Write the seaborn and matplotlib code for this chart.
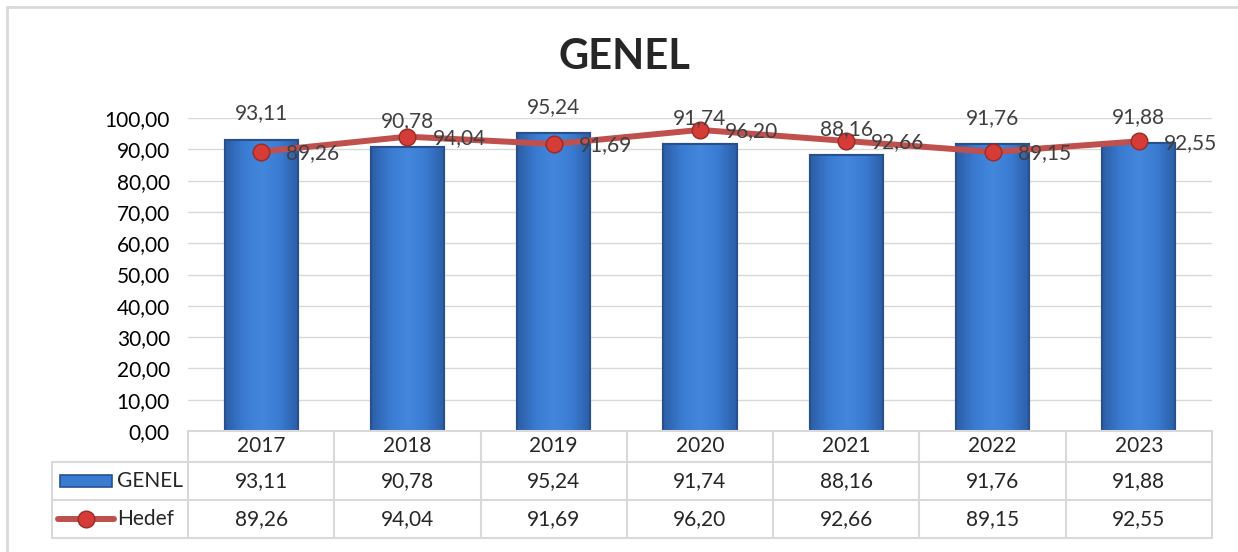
import numpy as np
import pandas as pd
import seaborn as sns
import matplotlib.pyplot as plt
from matplotlib.ticker import FuncFormatter, MultipleLocator
from matplotlib.lines import Line2D
from matplotlib.patches import Rectangle
from matplotlib.colors import LinearSegmentedColormap

# data
years = ['2017', '2018', '2019', '2020', '2021', '2022', '2023']
genel = [93.11, 90.78, 95.24, 91.74, 88.16, 91.76, 91.88]
hedef = [89.26, 94.04, 91.69, 96.20, 92.66, 89.15, 92.55]


def tr(v):
    # turkish decimal comma
    return f'{v:.2f}'.replace('.', ',')


sns.set_style('white')
plt.rcParams['font.family'] = ['Lato', 'DejaVu Sans']

W, H = 1238, 552
fig = plt.figure(figsize=(W / 100, H / 100), dpi=100)


def fx(px):
    return px / W


def fy(py):
    return 1 - py / H


# main plot area
ax = fig.add_axes([fx(188), fy(431), (1212 - 188) / W, (431 - 118) / H])

df = pd.DataFrame({'Yil': years, 'GENEL': genel, 'Hedef': hedef})
sns.barplot(data=df, x='Yil', y='GENEL', color='#3a7bd2', saturation=1,
            width=0.5, edgecolor='#2a5694', linewidth=1.5, ax=ax, zorder=2)
sns.pointplot(data=df, x='Yil', y='Hedef', color='#c0504d', errorbar=None,
              markers='o', linewidth=4.3, markersize=12, ax=ax)
for ln in ax.lines:
    ln.set_markerfacecolor('#d53b37')
    ln.set_markeredgecolor('#9a2a27')
    ln.set_markeredgewidth(1.0)
    ln.set_zorder(4)
    ln.set_clip_on(False)

# soft gradient fill on the bars (darker at the sides)
cmap = LinearSegmentedColormap.from_list(
    'bar', ['#2c5ea6', '#3a7bd2', '#4387dc', '#3a7bd2', '#2c5ea6'])
grad = np.linspace(0, 1, 64).reshape(1, -1)
for p in ax.patches:
    x0, y0 = p.get_x(), p.get_y()
    w, h = p.get_width(), p.get_height()
    im = ax.imshow(grad, cmap=cmap, aspect='auto', extent=[x0, x0 + w, y0, y0 + h],
                   zorder=2.1)
    im.set_clip_path(p)
    edge = Rectangle((x0, y0), w, h, facecolor='none', edgecolor='#27508c',
                     lw=1.5, zorder=2.2)
    ax.add_patch(edge)

ax.set_ylim(0, 100)
ax.set_xlim(-0.5, len(years) - 0.5)
ax.yaxis.set_major_locator(MultipleLocator(10))
ax.yaxis.set_major_formatter(FuncFormatter(lambda v, p: tr(v)))
ax.yaxis.grid(True, color='#d9d9d9', linewidth=1)
ax.set_axisbelow(True)
ax.tick_params(axis='y', length=0, pad=13, labelsize=15, labelcolor='black')
ax.tick_params(axis='x', length=0, labelbottom=False)
ax.set_xlabel('')
ax.set_ylabel('')
for s in ax.spines.values():
    s.set_visible(False)

for i, v in enumerate(genel):
    ax.annotate(tr(v), (i, v), xytext=(0, 18.7), textcoords='offset points',
                ha='center', va='center', fontsize=15, color='#404040',
                annotation_clip=False, zorder=5)
for i, v in enumerate(hedef):
    ax.annotate(tr(v), (i, v), xytext=(18, -1), textcoords='offset points',
                ha='left', va='center', fontsize=15, color='#404040',
                annotation_clip=False, zorder=5)

# data table under the chart
cw = (1212 - 188) / len(years)
xmin = -0.5 - (188 - 52) / cw
tax = fig.add_axes([fx(52), fy(538), (1212 - 52) / W, 107 / H])
tax.set_xlim(xmin, len(years) - 0.5)
tax.set_ylim(107, 0)
tax.axis('off')


def px2x(px):
    return xmin + (px - 52) / cw


gc = '#d9d9d9'
tax.plot([-0.5, len(years) - 0.5], [0, 0], color=gc, lw=1.5, clip_on=False)
for yy in [31, 69, 107]:
    tax.plot([xmin, len(years) - 0.5], [yy, yy], color=gc, lw=1.5, clip_on=False)
for k in range(len(years) + 1):
    tax.plot([-0.5 + k, -0.5 + k], [0, 107], color=gc, lw=1.5, clip_on=False)
tax.plot([xmin, xmin], [31, 107], color=gc, lw=1.5, clip_on=False)

for i in range(len(years)):
    tax.text(i, 15.5, years[i], ha='center', va='center', fontsize=15)
    tax.text(i, 50, tr(genel[i]), ha='center', va='center', fontsize=15)
    tax.text(i, 88, tr(hedef[i]), ha='center', va='center', fontsize=15)

# legend keys inside the table
tax.add_patch(Rectangle((px2x(60), 44), px2x(112) - px2x(60), 12,
                        facecolor='#3a7bd2', edgecolor='#27508c', lw=1.2,
                        clip_on=False))
tax.text(px2x(117), 50, 'GENEL', ha='left', va='center', fontsize=15)
tax.plot([px2x(58), px2x(114)], [88, 88], color='#c0504d', lw=4.3,
         solid_capstyle='round', clip_on=False)
tax.plot([px2x(86)], [88], 'o', markersize=12, markerfacecolor='#d53b37',
         markeredgecolor='#9a2a27', markeredgewidth=1.0, clip_on=False)
tax.text(px2x(117), 88, 'Hedef', ha='left', va='center', fontsize=15)

# title and outer frame
fig.text(fx(624), fy(57), 'GENEL', ha='center', va='center',
         fontsize=30, fontweight='bold')
fig.add_artist(Line2D([fx(7), fx(7)], [fy(7), 0], color=gc, lw=2))
fig.add_artist(Line2D([fx(7), 1], [fy(7), fy(7)], color=gc, lw=2))

fig.savefig('out.png', dpi=100)
